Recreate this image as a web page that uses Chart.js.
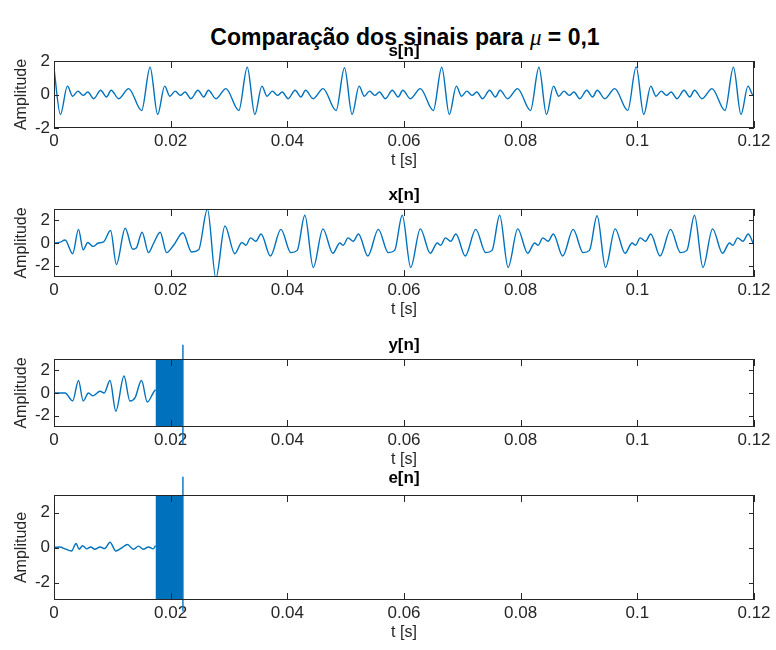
<!DOCTYPE html>
<html>
<head>
<meta charset="utf-8">
<script src="https://cdn.jsdelivr.net/npm/chart.js@4.4.1/dist/chart.umd.min.js"></script>
<style>
  html, body { margin: 0; padding: 0; background: #fff; }
  #wrap { position: relative; width: 776px; height: 650px; overflow: hidden; }
  #wrap canvas { position: absolute; left: 0; }
  #titulo {
    position: absolute; left: 0; width: 810px; top: 24px; text-align: center;
    font: bold 23px "Liberation Sans", Arial, sans-serif; color: #000; white-space: nowrap;
  }
  #titulo i { font-family: "Liberation Serif", serif; font-weight: normal; }
</style>
</head>
<body>
<div id="wrap">
  <div id="titulo">Comparação dos sinais para <i>μ</i> = 0,1</div>
  <canvas id="g1"></canvas>
  <canvas id="g2"></canvas>
  <canvas id="g3"></canvas>
  <canvas id="g4"></canvas>
</div>
<script>
// eixos
const xTicks = [0, 0.02, 0.04, 0.06, 0.08, 0.1, 0.12];
const xTickLabels = ['0', '0.02', '0.04', '0.06', '0.08', '0.1', '0.12'];
const yTicks = [-2, 0, 2];
const yTickLabels = ['-2', '0', '2'];

// s[n] - tempos em ms
const sTimeMs = [0, 1.1, 2.3, 3.2, 4.1, 5.0, 5.8, 6.8, 8.0, 9.0, 9.8, 11.1, 12.8, 15.02,
  16.47, 17.77, 18.97, 19.87, 20.77, 21.67, 22.47, 23.47, 24.67, 25.67, 26.47, 27.77, 29.47, 31.68,
  33.13, 34.43, 35.63, 36.53, 37.43, 38.33, 39.13, 40.13, 41.33, 42.33, 43.13, 44.43, 46.13, 48.35,
  49.8, 51.1, 52.3, 53.2, 54.1, 55.0, 55.8, 56.8, 58.0, 59.0, 59.8, 61.1, 62.8, 65.02,
  66.47, 67.77, 68.97, 69.87, 70.77, 71.67, 72.47, 73.47, 74.67, 75.67, 76.47, 77.77, 79.47, 81.68,
  83.13, 84.43, 85.63, 86.53, 87.43, 88.33, 89.13, 90.13, 91.33, 92.33, 93.13, 94.43, 96.13, 98.35,
  99.8, 101.1, 102.3, 103.2, 104.1, 105.0, 105.8, 106.8, 108.0, 109.0, 109.8, 111.1, 112.8, 115.02,
  116.47, 117.77, 118.97, 119.87, 120];
const sAmp = [1.55, -1.19, 0.5, -0.1, 0.2, -0.05, 0.15, -0.25, 0.25, -0.15, 0.25, -0.25, 0.35, -0.96,
  1.63, -1.19, 0.5, -0.1, 0.2, -0.05, 0.15, -0.25, 0.25, -0.15, 0.25, -0.25, 0.35, -0.96,
  1.63, -1.19, 0.5, -0.1, 0.2, -0.05, 0.15, -0.25, 0.25, -0.15, 0.25, -0.25, 0.35, -0.96,
  1.6, -1.19, 0.5, -0.1, 0.2, -0.05, 0.15, -0.25, 0.25, -0.15, 0.25, -0.25, 0.35, -0.96,
  1.63, -1.19, 0.5, -0.1, 0.2, -0.05, 0.15, -0.25, 0.25, -0.15, 0.25, -0.25, 0.35, -0.96,
  1.63, -1.19, 0.5, -0.1, 0.2, -0.05, 0.15, -0.25, 0.25, -0.15, 0.25, -0.25, 0.35, -0.96,
  1.65, -1.19, 0.5, -0.1, 0.2, -0.05, 0.15, -0.25, 0.25, -0.15, 0.25, -0.25, 0.35, -0.96,
  1.63, -1.19, 0.5, -0.05, 0.0];

// x[n]
const xTimeMs = [0, 1.0, 1.9, 3.2, 4.2, 5.0, 5.8, 6.7, 7.6, 8.5, 9.7, 10.7, 12.2, 13.5, 14.1, 15.1,
  16.2, 17.1, 18.2, 19.3, 20.5, 22.1, 23.6, 24.8,
  26.3, 27.75, 29.3, 31.0, 32.2, 32.9, 33.7, 34.6, 35.5, 37.1, 38.9, 40.6, 41.7,
  43.0, 44.45, 46.1, 47.8, 49.0, 49.6, 50.4, 51.3, 52.2, 53.8, 55.6, 57.3, 58.4,
  59.7, 61.15, 62.8, 64.5, 65.7, 66.3, 67.1, 68.0, 68.9, 70.5, 72.3, 74.0, 75.1,
  76.4, 77.85, 79.5, 81.2, 82.4, 83.0, 83.8, 84.7, 85.6, 87.2, 89.0, 90.7, 91.8,
  93.1, 94.55, 96.2, 97.9, 99.1, 99.7, 100.5, 101.4, 102.3, 103.9, 105.7, 107.4, 108.5,
  109.8, 111.25, 112.9, 114.6, 115.8, 116.4, 117.2, 118.1, 119.0, 120.0];
const xAmp = [0, 0.05, 0.27, -0.95, 1.2, -0.6, 0.05, -0.3, 0.0, 0.1, 1.1, -1.9, 1.3, -0.55, -0.45, 0.95,
  -0.85, 0.0, 0.95, -0.85, -0.2, 0.9, -0.8, -0.6,
  3.0, -3.1, 1.5, -0.95, 0.05, -0.2, 0.45, 0.15, 0.8, -1.15, 1.2, -0.85, -0.65,
  2.45, -2.15, 1.25, -0.9, 0.0, -0.2, 0.45, 0.15, 0.8, -1.15, 1.2, -0.85, -0.65,
  2.45, -2.15, 1.25, -0.9, 0.0, -0.2, 0.45, 0.15, 0.8, -1.15, 1.2, -0.85, -0.65,
  2.45, -2.15, 1.25, -0.9, 0.0, -0.2, 0.45, 0.15, 0.8, -1.15, 1.2, -0.85, -0.65,
  2.4, -2.15, 1.25, -0.9, 0.0, -0.2, 0.45, 0.15, 0.8, -1.15, 1.2, -0.85, -0.65,
  2.45, -2.15, 1.25, -0.9, 0.0, -0.2, 0.45, 0.15, 0.8, -0.2];

// y[n] antes da divergência
const yTimeMs = [0, 1.9, 3.2, 4.2, 5.0, 5.9, 6.7, 7.9, 8.6, 9.6, 10.6, 12.0, 13.0, 13.9, 15.0, 16.0, 17.0, 17.4];
const yAmp = [0, 0, -0.7, 1.1, -0.7, 0.0, -0.25, 0.15, 0.0, 1.1, -1.6, 1.5, -0.7, -0.4, 1.1, -0.8, 0.0, 0.3];

// e[n] antes da divergência
const eTimeMs = [0, 1.0, 1.9, 3.0, 3.8, 4.3, 4.9, 5.6, 6.3, 7.0, 7.9, 8.7, 9.6, 10.6, 11.6, 12.6, 13.6, 14.5, 15.3, 16.2, 17.0, 17.4];
const eAmp = [0, 0.03, -0.08, -0.2, 0.23, -0.1, 0.1, -0.08, 0.03, -0.1, 0.03, -0.06, 0.3, -0.2, -0.02, 0.17, -0.1, 0.08, -0.1, 0.03, -0.08, 0.1];

// trecho divergente (oscilação que sai do eixo)
const blowTimeMs = [17.4, 22.1];
const blowAmp = [4, 4];
const spikeTimeMs = [22.1, 22.1];
const ySpikeAmp = [4.25, -4.55];
const eSpikeAmp = [4.05, -3.65];

const AZUL = '#0072BD';
const CINZA = '#262626';
const FONTE = '"Liberation Sans", Arial, sans-serif';

function pts(tMs, amp) {
  return tMs.map((t, i) => ({ x: t / 1000, y: amp[i] }));
}

function linha(tMs, amp) {
  return { data: pts(tMs, amp), borderColor: AZUL, borderWidth: 1.4, pointRadius: 0,
    cubicInterpolationMode: 'monotone', fill: false };
}

// caixa, marcas internas e título de cada subplot
const caixaPlugin = {
  id: 'caixa',
  afterDraw(chart, args, opts) {
    const { ctx, chartArea: a, scales: { x, y } } = chart;
    ctx.save();
    ctx.strokeStyle = CINZA;
    ctx.lineWidth = 1;
    ctx.strokeRect(a.left + 0.5, a.top + 0.5, a.width - 1, a.height - 1);
    ctx.beginPath();
    xTicks.forEach(v => {
      const px = Math.round(x.getPixelForValue(v)) + 0.5;
      ctx.moveTo(px, a.bottom); ctx.lineTo(px, a.bottom - 7);
      ctx.moveTo(px, a.top); ctx.lineTo(px, a.top + 7);
    });
    yTicks.forEach(v => {
      const py = Math.round(y.getPixelForValue(v)) + 0.5;
      ctx.moveTo(a.left, py); ctx.lineTo(a.left + 5, py);
      ctx.moveTo(a.right, py); ctx.lineTo(a.right - 5, py);
    });
    ctx.stroke();
    ctx.fillStyle = '#000';
    ctx.font = 'bold 17px ' + FONTE;
    ctx.textAlign = 'center';
    ctx.textBaseline = 'bottom';
    ctx.fillText(opts.titulo, (a.left + a.right) / 2, a.top - opts.recuo);
    ctx.restore();
  }
};

function criarGrafico(id, topo, altura, datasets, yMin, yMax, titulo, recuo) {
  const el = document.getElementById(id);
  el.width = 776; el.height = altura;
  el.style.top = topo + 'px';
  return new Chart(el, {
    type: 'line',
    data: { datasets },
    plugins: [caixaPlugin],
    options: {
      responsive: false, animation: false, devicePixelRatio: 1, events: [],
      layout: { padding: { top: 24, right: 22, left: 0, bottom: 0 } },
      plugins: { legend: { display: false }, tooltip: { enabled: false }, caixa: { titulo, recuo } },
      scales: {
        x: {
          type: 'linear', min: 0, max: 0.12,
          afterFit(s) { s.height = 48; },
          afterBuildTicks(s) { s.ticks = xTicks.map(v => ({ value: v })); },
          grid: { display: false, drawTicks: false }, border: { display: false },
          ticks: { autoSkip: false, maxRotation: 0, padding: 3, color: CINZA,
            font: { family: FONTE, size: 17 },
            callback: v => xTickLabels[xTicks.indexOf(v)] },
          title: { display: true, text: 't [s]', color: CINZA, padding: { bottom: 6 },
            font: { family: FONTE, size: 16 } }
        },
        y: {
          min: yMin, max: yMax,
          afterFit(s) { s.width = 54; },
          afterBuildTicks(s) { s.ticks = yTicks.map(v => ({ value: v })); },
          grid: { display: false, drawTicks: false }, border: { display: false },
          ticks: { padding: 4, color: CINZA, font: { family: FONTE, size: 17 },
            callback: v => yTickLabels[yTicks.indexOf(v)] },
          title: { display: true, text: 'Amplitude', color: CINZA, padding: { top: 12 },
            font: { family: FONTE, size: 16 } }
        }
      }
    }
  });
}

function blocoDivergente() {
  return { data: pts(blowTimeMs, blowAmp), borderWidth: 0, pointRadius: 0,
    backgroundColor: AZUL, borderColor: AZUL, fill: { value: -4 } };
}
function pico(amp) {
  return { data: pts(spikeTimeMs, amp), borderColor: AZUL, borderWidth: 1.4,
    pointRadius: 0, clip: false, fill: false };
}

criarGrafico('g1', 37, 139, [linha(sTimeMs, sAmp)], -2, 2, 's[n]', 1);
criarGrafico('g2', 185, 140, [linha(xTimeMs, xAmp)], -3, 3, 'x[n]', 5);
criarGrafico('g3', 335, 140, [linha(yTimeMs, yAmp), blocoDivergente(), pico(ySpikeAmp)], -3, 3, 'y[n]', 5);
criarGrafico('g4', 471, 177, [linha(eTimeMs, eAmp), blocoDivergente(), pico(eSpikeAmp)], -3, 3, 'e[n]', 8);
</script>
</body>
</html>
